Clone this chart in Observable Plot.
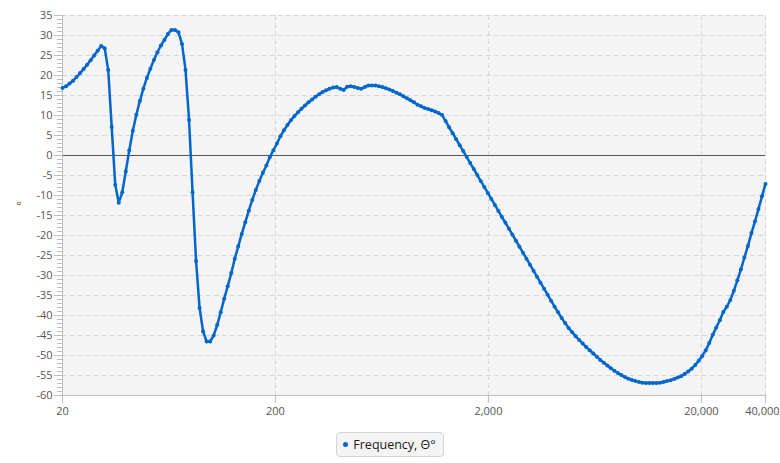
<!DOCTYPE html>
<html>
<head>
<meta charset="utf-8">
<script src="https://cdn.jsdelivr.net/npm/d3@7"></script>
<script src="https://cdn.jsdelivr.net/npm/@observablehq/plot@0.6"></script>
<style>
  body { margin: 0; background: #ffffff; font-family: "Open Sans", "Noto Sans", sans-serif; }
  #chart svg { display: block; overflow: visible; }
  #legend-wrap { width: 780px; text-align: center; margin-top: 4px; }
  .legend { display: inline-block; padding: 3px 7px 3px 6px; border: 1px solid #d4d4d4; border-radius: 4px;
            background: #f4f4f4; font-size: 12.5px; line-height: 17px; color: #1a1a1a; }
  .legend .dot { display: inline-block; width: 5px; height: 5px; border-radius: 50%; background: #0066cc;
                 vertical-align: middle; margin-right: 5px; position: relative; top: -1px; }
</style>
</head>
<body>
<div id="chart"></div>
<div id="legend-wrap"><div class="legend"><span class="dot"></span>Frequency, Θ°</div></div>
<script>
const seriesName = "Frequency, Θ°";
const freqs = [20,20.78,21.58,22.42,23.28,24.19,25.12,26.10,27.11,28.16,
29.25,30.39,31.56,32.78,34.05,35.37,36.74,38.17,39.64,41.18,
42.78,44.43,46.15,47.94,49.79,51.72,53.73,55.81,57.97,60.21,
62.54,64.97,67.48,70.10,72.81,75.63,78.56,81.61,84.77,88.05,
91.46,95.00,98.68,102.5,106.5,110.6,114.9,119.3,124.0,128.8,
133.7,138.9,144.3,149.9,155.7,161.7,168.0,174.5,181.3,188.3,
195.6,203.2,211.0,219.2,227.7,236.5,245.7,255.2,265.1,275.3,
286.0,297.1,308.6,320.6,333.0,345.9,359.2,373.2,387.6,402.7,
418.3,434.5,451.3,468.7,486.9,505.8,525.4,545.7,566.8,588.8,
611.7,635.3,659.9,685.5,712.0,739.6,768.3,798.0,829.0,861.1,
894.4,929.1,965.1,1002,1041,1082,1123,1167,1213,1259,
1308,1359,1411,1466,1523,1582,1643,1707,1773,1841,
1913,1987,2064,2144,2227,2313,2404,2496,2592,2693,
2797,2905,3018,3135,3256,3382,3513,3649,3791,3937,
4090,4248,4413,4583,4761,4946,5138,5336,5543,5758,
5981,6213,6454,6703,6963,7233,7513,7804,8106,8420,
8746,9085,9437,9803,10182,10576,10986,11412,11854,12314,
12790,13285,13799,14334,14889,15467,16066,16687,17334,18004,
18704,19428,20180,20963,21775,22617,23493,24405,25350,26330,
27350,28410,29510,30655,31841,33075,34355,35687,37069,38507,
40000];
const phase = [16.9,17.3,18.0,18.7,19.6,20.6,21.6,22.7,23.8,25.0,
26.2,27.4,26.8,21.4,7.1,-7.3,-11.8,-9.2,-4.0,1.3,
6.2,10.2,13.6,16.7,19.4,21.7,23.9,25.8,27.5,28.9,
30.4,31.4,31.4,30.8,27.9,21.4,8.9,-9.2,-26.4,-38.1,
-44.0,-46.5,-46.5,-45.0,-42.4,-39.2,-35.8,-32.7,-29.4,-25.8,
-22.7,-19.6,-16.7,-13.8,-11.1,-8.6,-6.4,-4.3,-2.5,-0.4,
1.3,3.0,4.8,6.3,7.6,8.8,9.9,10.8,11.7,12.5,
13.3,14.0,14.7,15.3,15.9,16.3,16.7,17.0,17.1,16.7,
16.4,17.2,17.3,17.1,16.9,16.7,17.1,17.5,17.5,17.5,
17.3,17.1,16.8,16.5,16.1,15.7,15.3,14.8,14.3,13.8,
13.3,12.7,12.3,11.9,11.6,11.3,11.0,10.6,10.1,8.6,
7.05,5.56,4.08,2.59,1.10,-0.39,-1.88,-3.4,-4.9,-6.38,
-7.87,-9.36,-10.85,-12.37,-13.86,-15.35,-16.84,-18.3,-19.8,-21.3,
-22.8,-24.3,-25.8,-27.3,-28.8,-30.3,-31.8,-33.3,-34.8,-36.3,
-37.8,-39.2,-40.6,-41.9,-43.1,-44.2,-45.2,-46.1,-47.0,-47.9,
-48.7,-49.5,-50.3,-51.1,-51.8,-52.5,-53.2,-53.8,-54.4,-54.9,
-55.4,-55.8,-56.1,-56.4,-56.6,-56.8,-56.9,-56.9,-56.9,-56.9,
-56.8,-56.6,-56.4,-56.2,-55.9,-55.5,-55.2,-54.6,-54.0,-53.3,
-52.4,-51.3,-50.1,-48.7,-46.9,-44.8,-43.0,-41.2,-39.1,-37.8,
-36.1,-33.8,-31.2,-28.5,-25.5,-22.6,-19.4,-16.5,-13.4,-10.2,
-7.1];
const xTicks = [20, 200, 2000, 20000, 40000];
const xTickLabels = ["20", "200", "2,000", "20,000", "40,000"];
const xGridTicks = [200, 2000, 20000, 40000];
const yTicks = [-60,-55,-50,-45,-40,-35,-30,-25,-20,-15,-10,-5,0,5,10,15,20,25,30,35];
const yMinorTicks = d3.range(-60, 36, 1);
const yLabel = "°";

const data = freqs.map((f, i) => ({f, v: phase[i]}));
const xTickData = xTicks.map((t, i) => ({t, label: xTickLabels[i]}));
const lastTick = xTickData.slice(-1);
const innerTicks = xTickData.slice(0, -1);
const lineColor = "#0066cc";

const chart = Plot.plot({
  width: 780,
  height: 428,
  marginLeft: 62,
  marginRight: 15,
  marginTop: 15,
  marginBottom: 33,
  style: { fontFamily: '"Open Sans", "Noto Sans", sans-serif', fontSize: "11px", background: "#ffffff", overflow: "visible" },
  x: { type: "log", domain: [20, 40000], axis: null },
  y: { domain: [-60, 35], axis: null },
  marks: [
    Plot.frame({ fill: "#f4f4f4", stroke: null }),
    Plot.gridY({ ticks: yTicks, stroke: "#d6d6d6", strokeOpacity: 1, strokeDasharray: "5,3" }),
    Plot.ruleX(xGridTicks, { x: d => d, stroke: "#d6d6d6", strokeOpacity: 1, strokeDasharray: "5,3" }),
    Plot.ruleY([0], { stroke: "#555555", strokeWidth: 1 }),
    Plot.axisY({ ticks: yMinorTicks, tickSize: 5, text: null, stroke: "#bdbdbd", label: null }),
    Plot.axisY({ ticks: yTicks, tickSize: 8, tickPadding: 2, tickFormat: d => String(d), stroke: "#bdbdbd", fill: "#555555", fontSize: 11, label: null }),
    Plot.ruleX(xTickData, { x: "t", y1: -60, y2: -62, stroke: "#bdbdbd" }),
    Plot.text(innerTicks, { x: "t", frameAnchor: "bottom", dy: 19, text: "label", fill: "#555555", fontSize: 11, textAnchor: "middle" }),
    Plot.text(lastTick, { x: "t", frameAnchor: "bottom", dy: 19, dx: 14, text: "label", fill: "#555555", fontSize: 11, textAnchor: "end" }),
    Plot.ruleX([20], { stroke: "#bdbdbd" }),
    Plot.ruleY([-60], { stroke: "#bdbdbd" }),
    Plot.line(data, { x: "f", y: "v", stroke: lineColor, strokeWidth: 2.5, strokeLinejoin: "round" }),
    Plot.dot(data, { x: "f", y: "v", r: 2, fill: lineColor, stroke: null }),
    Plot.text([yLabel], { frameAnchor: "left", dx: -41, dy: -2, text: d => d, fill: "#5a2a10", fontSize: 11, textAnchor: "middle", rotate: -90 })
  ]
});
document.getElementById("chart").appendChild(chart);
</script>
</body>
</html>
